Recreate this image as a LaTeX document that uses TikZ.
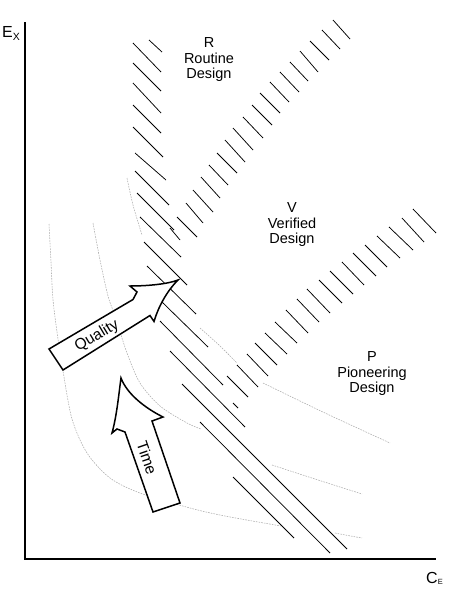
\documentclass[tikz,border=0pt]{standalone}
\usepackage{fontspec}
\setmainfont{Liberation Sans}
\begin{document}
\begin{tikzpicture}[x=1pt,y=-1pt,
  hatchline/.style={line width=0.75pt, black},
  isoline/.style={gray!65, line width=0.55pt, dash pattern=on 1.6pt off 1.1pt},
  axisline/.style={line width=1.8pt, line join=miter},
  blockarrow/.style={draw=black, line width=1.5pt, fill=white, line join=miter},
  lbl/.style={font=\fontsize{14.5}{15.5}\selectfont, align=center, inner sep=0pt},
  axlbl/.style={font=\fontsize{16}{16}\selectfont, inner sep=0pt, anchor=base west},
  arrtext/.style={font=\fontsize{15.5}{15.5}\selectfont, inner sep=0pt}]
\useasboundingbox (0,0) rectangle (450,592);

% iso-curves (drawn first, partly hidden behind arrows)
\draw[isoline] plot[smooth] coordinates {(49,224) (51,262) (53,300) (58,339) (63,371) (72,419) (87,453) (110,478) (140,493) (190,508) (225,516) (281,526)};
\draw[isoline] plot[smooth] coordinates {(335,533) (348,535.5) (362,538)};
\draw[isoline] plot[smooth] coordinates {(93,223) (100,260) (108,296) (115,316) (127,353) (140,383) (160,406) (187,423) (201,429)};
\draw[isoline] plot[smooth] coordinates {(272,465) (315,479) (362,494)};
\draw[isoline] plot[smooth] coordinates {(127,178) (133,205) (142,235)};
\draw[isoline] plot[smooth] coordinates {(200,328) (220,346) (237,363)};
\draw[isoline] plot[smooth] coordinates {(263,383) (325,413) (390,443)};

% left / lower hatch band
\foreach \a/\b/\c/\d in {149/40/162/52, 133/43/161/72, 133/63/161/91, 133/83/161/113,
  133/105/161/133, 133/127/163/157, 135/153/166/180, 135/171/169/205, 137/193/174/230,
  140/217/181/257, 144/242/187/285, 147/266/196/314, 162/302/208/347, 160/321/223/385,
  170/351/245/427, 182/384/347/549, 200/422/330/553, 233/477/294/538}
  \draw[hatchline] (\a,\b) -- (\c,\d);

% R/V hatch band
\foreach \a/\b/\c/\d in {333/20/350/39, 322/30/340/49, 310/41/329/60, 300/51/318/72,
  290/62/308/81, 280/72/299/92, 270/82/289/102, 260/93/280/113, 252/105/272/125,
  243/117/263/138, 233/128/253/150, 225/140/245/162, 217/153/237/173, 209/165/228/185,
  201/177/220/198, 193/190/213/212, 186/203/203/223, 177/217/197/237, 170/228/180/240}
  \draw[hatchline] (\a,\b) -- (\c,\d);

% V/P hatch band
\foreach \a/\b/\c/\d in {413/209/436/233, 402/218/424/242, 389/227/413/250, 377/236/400/258,
  365/245/387/267, 353/253/376/276, 342/262/364/285, 330/271/353/294, 319/280/342/303,
  307/289/330/313, 297/299/319/322, 286/310/308/333, 275/322/297/343, 265/333/287/354,
  255/343/277/365, 247/354/268/376, 237/365/258/387, 227/376/248/397, 233/403/238/408}
  \draw[hatchline] (\a,\b) -- (\c,\d);

% axes
\coordinate (ytop) at (25,22);
\coordinate (origin) at (25,559);
\coordinate (xend) at (436,559);
\draw[axisline] (ytop) -- (origin) -- (xend);
\node[axlbl] (ex) at (2,37) {E\raisebox{-3.5pt}{\fontsize{10.5}{10.5}\selectfont X}};
\node[axlbl] (ce) at (426,583) {C\raisebox{-1pt}{\fontsize{7.5}{7.5}\selectfont E}};

% Quality arrow
\draw[blockarrow] (178,280)
  .. controls (168,284) and (148,286) .. (130,286)
  -- (137,292) -- (133,299.5)
  -- (49,349) -- (63,370) -- (150,315.5) -- (154,321.5)
  .. controls (158,308) and (166,292) .. (178,280) -- cycle;
\node[arrtext, rotate=31] (quality) at (97,336) {Quality};

% Time arrow
\draw[blockarrow] (121,378)
  .. controls (119,392) and (117,415) .. (112,433)
  -- (117,429) -- (125,432)
  -- (153,512) -- (180,503) -- (152,421) -- (163,417)
  .. controls (145,408) and (127,394) .. (121,378) -- cycle;
\node[arrtext, rotate=-71] (time) at (147,458) {Time};

% region labels
\node[lbl] (routine) at (209,60) {R\\Routine\\Design};
\node[lbl] (verified) at (292,225) {V\\Verified\\Design};
\node[lbl] (pioneering) at (372,374) {P\\Pioneering\\Design};
\end{tikzpicture}
\end{document}
